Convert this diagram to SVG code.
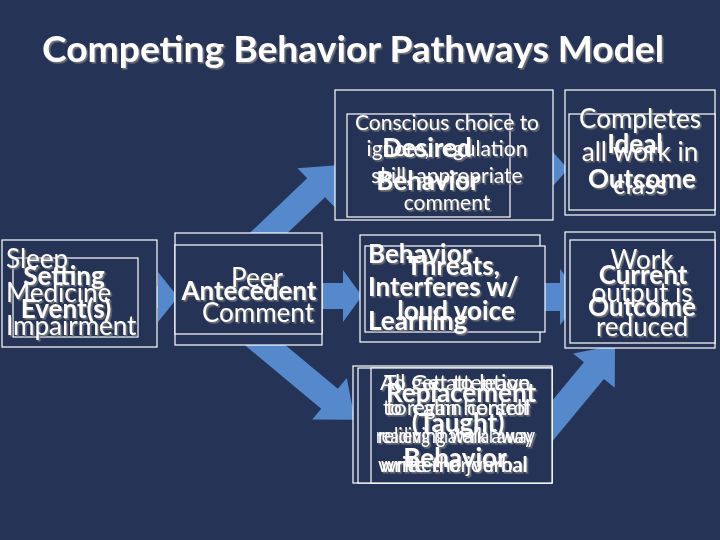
<svg xmlns="http://www.w3.org/2000/svg" width="720" height="540" viewBox="0 0 720 540">
<defs>
<style>
.bg{fill:#253356}
.box{fill:#253356;stroke:#ffffff;stroke-width:1.2}
.arr{fill:#5589CC}
text{font-family:Lato,"Liberation Sans",sans-serif;fill:#ffffff}
.r{font-size:26px}
.b{font-size:26px;font-weight:bold}
.s{font-size:21px}
.t{font-size:36px;font-weight:bold}
.m{text-anchor:middle}
</style>
<filter id="sh" x="-10%" y="-10%" width="120%" height="130%">
<feDropShadow dx="1.6" dy="1.6" stdDeviation="0.2" flood-color="#7a7a7a" flood-opacity="0.9"/>
</filter>
</defs>
<rect class="bg" x="0" y="0" width="720" height="540"/>
<text class="t" x="42" y="62" textLength="622" lengthAdjust="spacingAndGlyphs" filter="url(#sh)">Competing Behavior Pathways Model</text>

<g id="connectors">
<polygon class="arr" points="125,286 158,286 158,272 178,297 158,322 158,308 125,308"/>
<polygon class="arr" points="310,283 343,283 343,270 362,296 343,322 343,309 310,309"/>
<polygon class="arr" points="495,156 545,156 545,143 568,169 545,195 545,182 495,182"/>
<polygon class="arr" points="535,283 560,283 560,269 582,297 560,325 560,311 535,311"/>
<polygon class="arr" transform="translate(235,265) rotate(-43.6)" points="0,-13 112,-13 112,-27 145,0 112,27 112,13 0,13"/>
<polygon class="arr" transform="translate(235,320) rotate(39.8)" points="0,-13 123,-13 123,-27 156,0 123,27 123,13 0,13"/>
<polygon class="arr" transform="translate(520,460) rotate(-50.4)" points="0,-13 116,-13 116,-27 149,0 116,27 116,13 0,13"/>
</g>

<g id="setting-event">
<rect class="box" x="2" y="240" width="155" height="107"/>
<rect class="box" x="13" y="258" width="125" height="79" fill="none"/>
<g filter="url(#sh)">
<text class="r" x="6" y="268">Sleep</text>
<text class="r" x="6" y="302">Medicine</text>
<text class="r" x="6" y="335">Impairment</text>
<text class="b m" x="64" y="285">Setting</text>
<text class="b m" x="66" y="318">Event(s)</text>
</g>
</g>

<g id="antecedent">
<rect class="box" x="175" y="233" width="147" height="112"/>
<rect class="box" x="175" y="245" width="147" height="89"/>
<g filter="url(#sh)">
<text class="r m" x="257" y="287">Peer</text>
<text class="r m" x="258" y="322">Comment</text>
<text class="b m" x="249" y="300">Antecedent</text>
</g>
</g>

<g id="desired-behavior">
<rect class="box" x="335" y="90" width="218" height="130"/>
<rect class="box" x="347" y="114" width="163" height="103"/>
<g filter="url(#sh)">
<text class="s m" x="447" y="130">Conscious choice to</text>
<text class="s m" x="447" y="156">ignore, regulation</text>
<text class="s m" x="447" y="183">skill, appropriate</text>
<text class="s m" x="447" y="210">comment</text>
<text class="b m" x="427" y="157">Desired</text>
<text class="b m" x="428" y="190">Behavior</text>
</g>
</g>

<g id="ideal-outcome">
<rect class="box" x="565" y="90" width="150" height="125"/>
<rect class="box" x="569" y="114" width="146" height="96"/>
<g filter="url(#sh)">
<text class="r m" x="640" y="128">Completes</text>
<text class="r m" x="640" y="161">all work in</text>
<text class="r m" x="640" y="194">class</text>
<text class="b m" x="635" y="153">Ideal</text>
<text class="b m" x="642" y="188">Outcome</text>
</g>
</g>

<g id="problem-behavior">
<rect class="box" x="360" y="235" width="180" height="107"/>
<rect class="box" x="365" y="246" width="180" height="86" fill="none"/>
<g filter="url(#sh)">
<text class="b" x="368" y="263">Behavior</text>
<text class="b" x="368" y="296">Interferes w/</text>
<text class="b" x="368" y="330">Learning</text>
<text class="b m" x="453" y="275">Threats,</text>
<text class="b m" x="456" y="320">loud voice</text>
</g>
</g>

<g id="current-outcome">
<rect class="box" x="565" y="232" width="150" height="116"/>
<rect class="box" x="570" y="240" width="145" height="103"/>
<g filter="url(#sh)">
<text class="r m" x="642" y="269">Work</text>
<text class="r m" x="642" y="302">output is</text>
<text class="r m" x="642" y="336">reduced</text>
<text class="b m" x="643" y="284">Current</text>
<text class="b m" x="642" y="316">Outcome</text>
</g>
</g>

<g id="replacement-behavior">
<rect class="box" x="353" y="366" width="199" height="117"/>
<rect class="box" x="358" y="368" width="194" height="115" fill="none"/>
<rect class="box" x="371" y="368" width="181" height="115" fill="none"/>
<g filter="url(#sh)">
<text class="s" x="380" y="390" textLength="150" lengthAdjust="spacingAndGlyphs">All Get to leave</text>
<text class="s" x="384" y="390" textLength="146" lengthAdjust="spacingAndGlyphs">To get attention</text>
<text class="s" x="383" y="415" textLength="147" lengthAdjust="spacingAndGlyphs">to regain control</text>
<text class="s" x="386" y="415" textLength="144" lengthAdjust="spacingAndGlyphs">to calm herself</text>
<text class="s" x="376" y="443" textLength="159" lengthAdjust="spacingAndGlyphs">reading material away</text>
<text class="s" x="378" y="443" textLength="155" lengthAdjust="spacingAndGlyphs">relieving walk away</text>
<text class="s" x="378" y="472" textLength="150" lengthAdjust="spacingAndGlyphs">written or verbal</text>
<text class="s" x="381" y="472" textLength="146" lengthAdjust="spacingAndGlyphs">write the journal</text>
<text class="b m" x="461" y="402">Replacement</text>
<text class="b m" x="458" y="432">(Taught)</text>
<text class="b m" x="455" y="467">Behavior</text>
</g>
</g>
</svg>
